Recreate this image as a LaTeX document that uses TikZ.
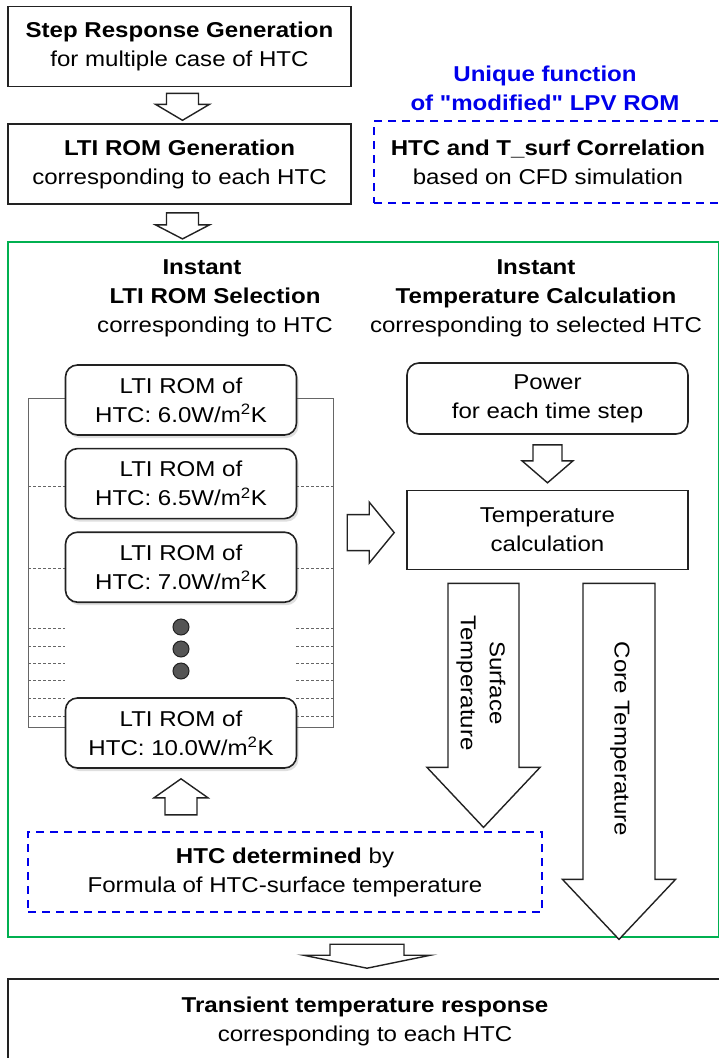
\documentclass[tikz,border=0pt]{standalone}
\usepackage{fontspec}
\setmainfont{Liberation Sans}[FakeStretch=1.12]
\newfontfamily\rawquote{Liberation Sans}[FakeStretch=1.12]
\usetikzlibrary{positioning, calc, shadows}

\definecolor{framegreen}{RGB}{0,176,80}
\definecolor{dashblue}{RGB}{0,0,235}
\definecolor{linegray}{RGB}{34,34,34}
\definecolor{dotgray}{RGB}{85,85,85}

% straight double quote
\newcommand{\sq}{{\rawquote\bfseries"}}

% hollow block arrows: start, tip, shaft half width, head half width, head length
\newcommand{\blockdown}[5]{%
  \draw[blockarrow] let \p1=#1, \p2=#2 in
    (\x1-#3,\y1) -- (\x1+#3,\y1) -- (\x1+#3,\y2+#5) -- (\x1+#4,\y2+#5)
    -- (\x1,\y2) -- (\x1-#4,\y2+#5) -- (\x1-#3,\y2+#5) -- cycle;}
\newcommand{\blockright}[5]{%
  \draw[blockarrow] let \p1=#1, \p2=#2 in
    (\x1,\y1+#3) -- (\x2-#5,\y1+#3) -- (\x2-#5,\y1+#4) -- (\x2,\y1)
    -- (\x2-#5,\y1-#4) -- (\x2-#5,\y1-#3) -- (\x1,\y1-#3) -- cycle;}

\begin{document}
\begin{tikzpicture}[
    x=1pt, y=-1pt,
    node distance = 12pt,
    every node/.style = {font=\fontsize{21.5}{29}\selectfont, align=center, text=black},
    plainbox/.style = {draw=linegray, line width=1.6pt, fill=white, inner sep=0pt},
    roundbox/.style = {plainbox, rounded corners=12pt},
    rombox/.style = {roundbox, minimum width=231pt, minimum height=70pt,
                     drop shadow={opacity=0.25, shadow xshift=2pt, shadow yshift=-3pt}},
    dashbox/.style = {draw=dashblue, line width=2.4pt, dash pattern=on 8pt off 6pt, inner sep=0pt},
    blockarrow/.style = {draw=linegray, line width=1.4pt, fill=white, line join=miter},
    rackline/.style = {draw=black!60, line width=0.6pt},
    rackdash/.style = {rackline, densely dashed, line width=0.4pt}
  ]
  \useasboundingbox (0,0) rectangle (718,1058);

  % top of the flow
  \node (step) [plainbox, minimum width=343pt, minimum height=80pt] at (179.5,46.5)
    {\textbf{Step Response Generation}\\for multiple case of HTC};
  \node (ltigen) [plainbox, minimum width=343pt, minimum height=80pt, below=36pt of step]
    {\textbf{LTI ROM Generation}\\corresponding to each HTC};
  \node (corr) [dashbox, minimum width=348pt, minimum height=82pt] at (548,162)
    {\textbf{HTC and T\_surf Correlation}\\based on CFD simulation};
  \node (uniq) [text=dashblue] at (545,88) {\textbf{Unique function}\\\textbf{of \sq modified\sq\ LPV ROM}};

  \blockdown{($(step.south)+(3,6)$)}{($(ltigen.north)+(3,-3)$)}{16pt}{27pt}{16pt}
  \blockdown{($(ltigen.south)+(3,8)$)}{($(ltigen.south)+(3,34)$)}{16pt}{27pt}{14pt}

  % instant loop
  \draw[framegreen, line width=2pt] (8,242) rectangle (719,937);
  \node (selhead) at (215,298)
    {\textbf{Instant}\hspace*{26pt}\\\textbf{LTI ROM Selection}\\corresponding to HTC};
  \node (calchead) at (536,298)
    {\textbf{Instant}\\\textbf{Temperature Calculation}\\corresponding to selected HTC};

  % rack behind the ROM list
  \draw[rackline] (65,398) -- (28,398) -- (28,727) -- (65,727);
  \draw[rackline] (296,398) -- (333,398) -- (333,727) -- (296,727);
  \foreach \yy in {486,568,628,646,663,680,698,716} {
    \draw[rackdash] (28,\yy) -- (65,\yy);
    \draw[rackdash] (296,\yy) -- (333,\yy);
  }

  \node (rom1) [rombox] at (181,400) {LTI ROM of\\HTC: 6.0W/m\textsuperscript{2}K};
  \node (rom2) [rombox, below=of rom1] {LTI ROM of\\HTC: 6.5W/m\textsuperscript{2}K};
  \node (rom3) [rombox, below=of rom2] {LTI ROM of\\HTC: 7.0W/m\textsuperscript{2}K};
  \foreach \yy [count=\i] in {627,649,671}
    \node (dot\i) [circle, draw=linegray, fill=dotgray, line width=1pt, minimum size=16pt, inner sep=0pt] at (181,\yy) {};
  \node (rom4) [rombox] at (181,733) {LTI ROM of\\HTC: 10.0W/m\textsuperscript{2}K};

  \node (power) [roundbox, minimum width=281pt, minimum height=71pt] at (547.5,398.5)
    {Power\\for each time step};
  \node (tcalc) [plainbox, minimum width=281pt, minimum height=79pt, below=55pt of power]
    {Temperature\\calculation};

  \blockdown{($(power.south)+(0,10)$)}{($(tcalc.north)+(0,-7)$)}{14.5pt}{25.5pt}{22pt}
  \blockright{($(tcalc.west)+(-59,2.5)$)}{($(tcalc.west)+(-12,2.5)$)}{18pt}{30.5pt}{25pt}

  \blockdown{($(tcalc.south)+(-64,13)$)}{($(tcalc.south)+(-64,257)$)}{35.5pt}{56.5pt}{60pt}
  \blockdown{($(tcalc.south)+(71.5,13)$)}{($(tcalc.south)+(71.5,369)$)}{36pt}{56.5pt}{60pt}
  \node (surftext) [rotate=-90] at (481,683) {Surface\\Temperature};
  \node (coretext) [rotate=-90] at (620,739) {Core Temperature};

  \node (htcdet) [dashbox, minimum width=514pt, minimum height=80pt] at (285,872)
    {\textbf{HTC determined} by\\Formula of HTC-surface temperature};
  \blockdown{($(rom4.south)+(0,46)$)}{($(rom4.south)+(0,10)$)}{16pt}{27pt}{-19pt}

  % result
  \node (trans) [plainbox, minimum width=714pt, minimum height=84pt] at (365,1021)
    {\textbf{Transient temperature response}\\corresponding to each HTC};
  \blockdown{($(trans.north)+(2,-34)$)}{($(trans.north)+(2,-10)$)}{37pt}{63.5pt}{13pt}

\end{tikzpicture}
\end{document}
